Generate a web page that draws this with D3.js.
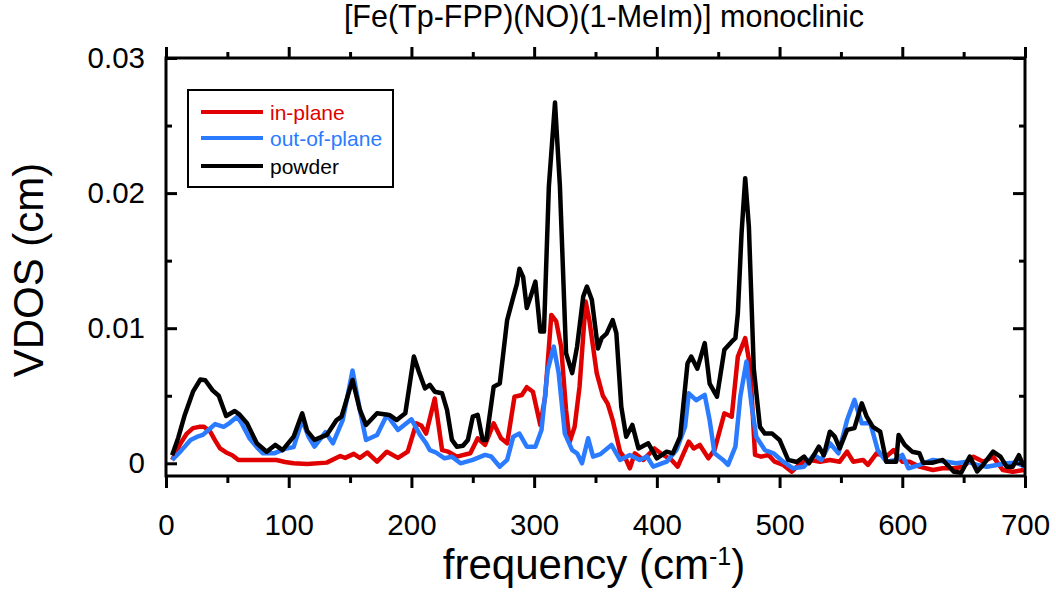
<!DOCTYPE html>
<html>
<head>
<meta charset="utf-8">
<script src="https://cdn.jsdelivr.net/npm/d3@7"></script>
<style>
  body { margin: 0; background: #fff; }
  svg { font-family: "Liberation Sans", Arial, sans-serif; }
  .axis path.domain { display: none; }
  .axis line { stroke: #000; stroke-width: 3; }
</style>
</head>
<body>
<svg width="1056" height="595"></svg>
<script>
// [frequency (cm-1), VDOS (cm)]
const inPlane = [
  [5, 0.00024], [12, 0.0015], [17, 0.0022], [22, 0.0026], [27, 0.0027], [31, 0.0027],
  [36, 0.00234], [40, 0.0017], [44, 0.0011], [49, 0.0008], [54, 0.0006], [59, 0.00024],
  [75, 0.00024], [90, 0.00024], [97, 0.0001], [104, 0], [115, -0.00005], [131, 0.00005],
  [142, 0.00054], [146, 0.0004], [153, 0.0007], [158, 0.0004], [164, 0.0008], [172, 0.00012],
  [180, 0.00086], [189, 0.0004], [197, 0.00086], [204, 0.00296], [208, 0.0028], [212, 0.0022],
  [219, 0.0048], [225, 0.00098], [230, 0.00086], [237, 0.00049], [248, 0.00074], [254, 0.00185],
  [260, 0.00136], [267, 0.00296], [273, 0.00185], [278, 0.00148], [284, 0.00493], [290, 0.00506],
  [294, 0.00563], [299, 0.0053], [305, 0.00284], [309, 0.00493], [314, 0.01098], [318, 0.0105],
  [322, 0.00864], [326, 0.00395], [329, 0.0016], [333, 0.0027], [337, 0.00567], [342, 0.01197],
  [345, 0.0106], [351, 0.00667], [356, 0.005], [360, 0.0044], [364, 0.0032], [370, 0.00085],
  [375, 0.00025], [378, -0.00037], [382, 0.00074], [389, 0.00025], [398, 0.0011], [405, 0.00062],
  [412, 0.00025], [417, -0.00025], [426, 0.0016], [430, 0.0011], [435, 0.00136], [442, 0.00037],
  [447, 0.001], [455, 0.0037], [461, 0.00345], [466, 0.0079], [472, 0.00926], [476, 0.00716],
  [480, 0.00062], [485, 0.00049], [491, 0.00062], [496, 0.00012], [503, -0.00012], [510, -0.00062],
  [517, 0], [525, 0.00025], [533, 0.00012], [541, 0.00025], [549, 0.00012], [555, 0.00086],
  [560, 0.00012], [568, 0.00025], [572, -0.00012], [579, 0.00074], [587, 0.0005], [593, 0.00098],
  [600, 0.00012], [606, 0.00012], [614, -0.00025], [625, -0.0005], [633, -0.00037], [642, -0.00037],
  [650, -0.00025], [658, 0.00049], [666, 0.00012], [674, 0.00049], [682, -0.0005], [690, -0.00062],
  [699, -0.0005]
];

const outOfPlane = [
  [5, 0.00024], [12, 0.0009], [20, 0.00173], [25, 0.00195], [30, 0.0021], [35, 0.0025],
  [40, 0.0029], [47, 0.0027], [52, 0.003], [58, 0.00345], [62, 0.0029], [68, 0.00185],
  [74, 0.0012], [79, 0.00074], [88, 0.00074], [98, 0.0011], [104, 0.0012], [111, 0.0032],
  [116, 0.002], [121, 0.00123], [130, 0.0023], [136, 0.00148], [144, 0.0032], [148, 0.005],
  [152, 0.00686], [158, 0.00395], [163, 0.00173], [172, 0.0021], [180, 0.00358], [189, 0.00247],
  [200, 0.00326], [207, 0.0021], [212, 0.00148], [215, 0.00098], [220, 0.0008], [227, 0.00037],
  [233, 0.00049], [240, 0], [250, 0.00025], [260, 0.00062], [265, 0.0005], [272, -0.00025],
  [278, 0.00025], [283, 0.00197], [288, 0.0022], [294, 0.00123], [301, 0.00123], [306, 0.00247],
  [311, 0.0069], [316, 0.00864], [320, 0.00667], [325, 0.0022], [331, 0.00098], [335, 0.00074],
  [339, 0], [344, 0.00185], [348, 0.00049], [354, 0.00068], [363, 0.00136], [370, 0.00025],
  [378, 0.00062], [386, 0.00025], [392, 0.0005], [397, -0.00025], [408, 0.00012], [416, 0.00098],
  [423, 0.0027], [426, 0.00518], [432, 0.00467], [439, 0.00506], [443, 0.0032], [447, 0.00074],
  [454, 0.00025], [458, -0.00012], [464, 0.00123], [468, 0.00493], [473, 0.00753], [477, 0.00444],
  [481, 0.00197], [488, 0.00098], [495, 0.00074], [503, 0.00012], [511, -0.00037], [520, -0.00025],
  [528, 0.00062], [534, 0.00025], [541, 0.00148], [548, 0.00074], [555, 0.0032], [561, 0.00469],
  [567, 0.00296], [574, 0.00296], [580, 0.00098], [587, 0.00012], [595, 0.00025], [600, 0.00062],
  [605, -0.00037], [614, -0.00012], [625, 0.00025], [636, 0.00012], [644, 0], [653, 0.00012],
  [661, -0.00012], [669, -0.00025], [677, -0.00012], [685, 0], [693, 0.00005], [700, -0.00025]
];

const powder = [
  [5, 0.0006], [10, 0.0019], [15, 0.0035], [22, 0.0053], [28, 0.0062], [32, 0.00615],
  [38, 0.0054], [43, 0.005], [49, 0.0035], [56, 0.00387], [60, 0.0036], [66, 0.00296],
  [74, 0.00148], [82, 0.00086], [89, 0.00136], [95, 0.00098], [104, 0.00197], [111, 0.0037],
  [115, 0.0024], [121, 0.00173], [131, 0.0021], [139, 0.0032], [143, 0.00345], [152, 0.00617],
  [158, 0.00395], [163, 0.00284], [172, 0.0037], [182, 0.00358], [188, 0.0032], [195, 0.0037],
  [202, 0.0079], [206, 0.0068], [211, 0.00555], [215, 0.0058], [219, 0.0053], [225, 0.00518],
  [229, 0.00395], [233, 0.00173], [237, 0.00123], [242, 0.0013], [246, 0.00173], [250, 0.00345],
  [254, 0.00358], [258, 0.00173], [261, 0.00173], [267, 0.00567], [272, 0.0059], [278, 0.0106],
  [282, 0.01197], [286, 0.0133], [288, 0.0144], [291, 0.0138], [294, 0.0115], [297, 0.0123],
  [301, 0.01345], [305, 0.00975], [308, 0.00975], [312, 0.0205], [317, 0.0267], [321, 0.0205],
  [326, 0.00815], [331, 0.00667], [335, 0.00864], [340, 0.01234], [343, 0.01308], [347, 0.0121],
  [352, 0.0085], [355, 0.00926], [359, 0.0096], [364, 0.0106], [367, 0.00963], [371, 0.0042],
  [375, 0.00197], [380, 0.00284], [385, 0.0011], [393, 0.00148], [400, 0.00037], [408, 0.00086],
  [413, 0.00074], [419, 0.00197], [425, 0.0074], [428, 0.0079], [433, 0.007], [439, 0.0089],
  [443, 0.0059], [449, 0.00493], [455, 0.0084], [461, 0.009], [464, 0.00926], [466, 0.0111],
  [469, 0.017], [472, 0.0211], [475, 0.0175], [479, 0.007], [484, 0.0027], [488, 0.0022],
  [494, 0.0022], [500, 0.00173], [507, 0.00025], [514, 0.0001], [520, 0.0005], [524, 0],
  [532, 0.00123], [536, 0.0006], [541, 0.00234], [545, 0.00197], [549, 0.0011], [555, 0.00247],
  [561, 0.0026], [567, 0.00444], [571, 0.00345], [576, 0.0027], [582, 0.00234], [587, 0.00012],
  [595, 0.00012], [597, 0.0021], [602, 0.00136], [608, 0.00086], [614, 0.00074], [617, 0.00005],
  [625, 0.00005], [633, 0.00025], [642, -0.00062], [648, -0.0007], [655, 0.0005], [661, -0.0006],
  [666, -0.0001], [674, 0.00086], [680, 0.00049], [685, -0.00025], [690, -0.00025], [695, 0.0006],
  [699, -0.00025]
];

const seriesNames = ["in-plane", "out-of-plane", "powder"];
const seriesColors = ["#e00000", "#2a7bff", "#000000"];

const xMajor = [0, 100, 200, 300, 400, 500, 600, 700];
const xMinor = [50, 150, 250, 350, 450, 550, 650];
const yMajor = [0, 0.01, 0.02, 0.03];
const yMinor = [0.005, 0.015, 0.025];

const svg = d3.select("svg");

const plotLeft = 166, plotRight = 1025, plotTop = 58, plotBottom = 476;

const x = d3.scaleLinear().domain([0, 700]).range([plotLeft, plotRight]);
const y = d3.scaleLinear().domain([-0.00094, 0.03]).range([plotBottom, plotTop]);

// title
svg.append("text")
  .attr("x", 604)
  .attr("y", 27)
  .attr("text-anchor", "middle")
  .attr("font-size", 30.5)
  .text("[Fe(Tp-FPP)(NO)(1-MeIm)] monoclinic");

// clip the curves to the frame
svg.append("clipPath")
  .attr("id", "plot-clip")
  .append("rect")
  .attr("x", plotLeft)
  .attr("y", plotTop)
  .attr("width", plotRight - plotLeft)
  .attr("height", plotBottom - plotTop);

const line = d3.line()
  .x((d) => x(d[0]))
  .y((d) => y(d[1]));

svg.append("g")
  .attr("clip-path", "url(#plot-clip)")
  .selectAll("path")
  .data([inPlane, outOfPlane, powder])
  .join("path")
  .attr("d", line)
  .attr("fill", "none")
  .attr("stroke", (d, i) => seriesColors[i])
  .attr("stroke-width", 4.5)
  .attr("stroke-linejoin", "round");

// axes: x ticks point out, y ticks point in
function addAxis(axis, transform) {
  return svg.append("g")
    .attr("class", "axis")
    .attr("transform", transform)
    .call(axis)
    .attr("font-family", null)
    .attr("font-size", 29.5);
}

const noLabel = () => "";

addAxis(d3.axisBottom(x).tickValues(xMajor).tickSize(12).tickPadding(26).tickFormat(d3.format("d")),
  `translate(0,${plotBottom})`);
addAxis(d3.axisBottom(x).tickValues(xMinor).tickSize(7).tickFormat(noLabel), `translate(0,${plotBottom})`);
addAxis(d3.axisTop(x).tickValues(xMajor).tickSize(11).tickFormat(noLabel), `translate(0,${plotTop})`);
addAxis(d3.axisTop(x).tickValues(xMinor).tickSize(6).tickFormat(noLabel), `translate(0,${plotTop})`);

addAxis(d3.axisLeft(y).tickValues(yMajor).tickSize(-11).tickPadding(21)
  .tickFormat((d) => (d === 0 ? "0" : d3.format(".2f")(d))), `translate(${plotLeft},0)`);
addAxis(d3.axisLeft(y).tickValues(yMinor).tickSize(-6).tickFormat(noLabel), `translate(${plotLeft},0)`);
addAxis(d3.axisRight(y).tickValues(yMajor).tickSize(-12).tickFormat(noLabel), `translate(${plotRight},0)`);
addAxis(d3.axisRight(y).tickValues(yMinor).tickSize(-6).tickFormat(noLabel), `translate(${plotRight},0)`);

svg.append("rect")
  .attr("x", plotLeft)
  .attr("y", plotTop)
  .attr("width", plotRight - plotLeft)
  .attr("height", plotBottom - plotTop)
  .attr("fill", "none")
  .attr("stroke", "#000")
  .attr("stroke-width", 3);

// axis titles
const xTitle = svg.append("text")
  .attr("x", 594)
  .attr("y", 579)
  .attr("text-anchor", "middle")
  .attr("font-size", 42);
xTitle.append("tspan").text("frequency (cm");
xTitle.append("tspan").attr("font-size", 25).attr("dy", -14).text("-1");
xTitle.append("tspan").attr("dy", 14).text(")");

svg.append("text")
  .attr("transform", "translate(43,270) rotate(-90)")
  .attr("text-anchor", "middle")
  .attr("font-size", 42)
  .text("VDOS (cm)");

// legend
const legend = svg.append("g");
legend.append("rect")
  .attr("x", 188)
  .attr("y", 90)
  .attr("width", 205)
  .attr("height", 97)
  .attr("fill", "#fff")
  .attr("stroke", "#000")
  .attr("stroke-width", 2);

const legendRow = legend.selectAll("g.row")
  .data(seriesNames)
  .join("g")
  .attr("class", "row")
  .attr("transform", (d, i) => `translate(0,${[112, 138, 166][i]})`);

legendRow.append("line")
  .attr("x1", 201)
  .attr("x2", 263)
  .attr("stroke", (d, i) => seriesColors[i])
  .attr("stroke-width", 4);

legendRow.append("text")
  .attr("x", 270)
  .attr("y", 7.5)
  .attr("font-size", 21)
  .attr("fill", (d, i) => seriesColors[i])
  .text((d) => d);
</script>
</body>
</html>
